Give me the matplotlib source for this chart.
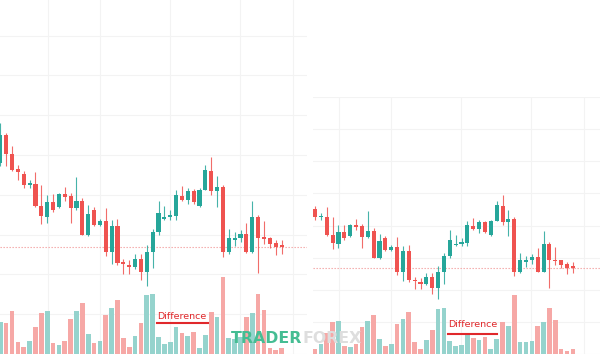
import numpy as np
import matplotlib
matplotlib.use("Agg")
import matplotlib.pyplot as plt
from matplotlib import transforms
from matplotlib.lines import Line2D

# ---- data ----
opens  = [113.5, 116.3, 114.4, 112.9, 112.4, 111.3, 111.4, 109.1, 108.0, 109.5,
          109.0, 110.4, 110.2, 108.9, 109.6, 106.2, 108.7, 107.2, 107.6, 104.5,
          107.1, 103.4, 103.2, 103.0, 103.8, 102.5, 104.5, 106.5, 107.8, 108.0,
          108.1, 110.2, 109.8, 110.7, 109.1, 110.8, 112.7, 110.7, 111.1, 104.5,
          105.7, 105.9, 106.3, 104.5, 108.0, 106.0, 105.9, 105.4, 105.2]
highs  = [117.5, 116.5, 115.2, 113.3, 112.7, 111.8, 112.6, 111.3, 110.3, 110.4,
          110.5, 111.1, 110.5, 112.1, 110.0, 109.2, 109.0, 107.8, 108.9, 107.7,
          107.8, 103.8, 103.7, 104.3, 104.3, 105.2, 106.8, 109.7, 109.1, 108.7,
          110.8, 111.2, 111.0, 110.9, 111.0, 113.3, 114.1, 112.2, 111.3, 106.8,
          106.5, 106.7, 107.4, 109.6, 108.2, 107.6, 106.0, 105.7, 105.7]
lows   = [113.2, 113.2, 112.7, 111.8, 111.0, 111.0, 109.0, 107.3, 107.4, 108.5,
          108.9, 109.7, 107.4, 108.7, 106.2, 106.1, 107.1, 107.1, 104.1, 103.3,
          103.2, 102.3, 102.3, 102.8, 101.7, 101.0, 102.9, 106.2, 107.7, 107.7,
          107.7, 109.7, 109.3, 109.3, 109.0, 110.8, 110.3, 109.0, 104.0, 104.3,
          105.1, 105.5, 104.4, 104.4, 102.4, 105.3, 104.9, 104.2, 104.3]
closes = [116.3, 114.4, 112.8, 112.6, 111.3, 111.4, 109.1, 108.1, 109.5, 108.7,
          110.4, 110.1, 108.9, 109.6, 106.2, 108.3, 107.2, 107.6, 104.5, 107.1,
          103.4, 103.3, 103.0, 103.8, 102.5, 104.5, 106.5, 108.4, 108.0, 108.2,
          110.3, 109.8, 110.7, 109.5, 110.8, 112.8, 110.7, 111.1, 104.5, 105.9,
          105.9, 106.3, 104.5, 108.0, 105.9, 105.8, 105.3, 105.0, 105.0]
volumes = [3200, 3100, 4300, 1200, 700, 1300, 2700, 4100, 4300, 1100,
           900, 1300, 3500, 4300, 5100, 2000, 1100, 1300, 3900, 4600,
           5400, 1600, 700, 1800, 3100, 5900, 6000, 1700, 1000, 1200,
           2700, 2100, 1800, 2200, 600, 1900, 4200, 3700, 7700, 1600,
           1500, 1700, 3700, 4100, 6000, 4400, 600, 400, 600]
price_grid = [126.4 - 4.03 * k for k in range(9)]
time_grid = [8.1, 17, 28.9, 40.9, 49.9]
annotation = "Difference"

UP, DOWN = "#26a69a", "#ef5350"
UP_V, DOWN_V = "#95d3cd", "#f6a8a6"

W, H = 600, 354
fig = plt.figure(figsize=(6, 3.54), dpi=100)
fig.patch.set_facecolor("white")


def px_rect(x0, y0, x1, y1):
    return [x0 / W, 1 - y1 / H, (x1 - x0) / W, (y1 - y0) / H]


panels = [
    dict(rect=px_rect(0, 0, 307, 354), xlim=(-0.05, 52.34), ylim=(94.6, 130.0), vtop=35400),
    dict(rect=px_rect(313, 97, 600, 354), xlim=(3.65, 52.63), ylim=(98.0, 123.7), vtop=33380),
]

o = np.array(opens); h = np.array(highs); l = np.array(lows); c = np.array(closes)
v = np.array(volumes)
idx = np.arange(len(o))
up = c >= o

for p in panels:
    ax = fig.add_axes(p["rect"])
    ax.set_facecolor("white")
    for s in ax.spines.values():
        s.set_visible(False)
    ax.set_xlim(*p["xlim"])
    ax.set_ylim(*p["ylim"])
    ax.set_yticks(price_grid)
    ax.set_xticks(time_grid)
    ax.tick_params(length=0, labelleft=False, labelbottom=False)
    ax.grid(True, color="#f3f3f3", lw=0.8)
    ax.set_axisbelow(True)

    # volume bars (own vertical scale at the bottom of the pane)
    vtrans = transforms.blended_transform_factory(
        ax.transData, transforms.Affine2D().scale(1, 1 / p["vtop"]) + ax.transAxes)
    ax.bar(idx, v, width=0.8, color=np.where(up, UP_V, DOWN_V),
           transform=vtrans, zorder=2, linewidth=0)

    # last price line
    ax.axhline(c[-1], color="#f3a3a3", lw=0.8, ls=(0, (1.2, 1.5)), zorder=2.5)

    # candles
    cols = np.where(up, UP, DOWN)
    ax.vlines(idx, l, h, colors=cols, lw=0.8, alpha=0.85, zorder=3)
    body_lo = np.minimum(o, c)
    body_h = np.maximum(np.abs(c - o), 0.15)
    ax.bar(idx, body_h, bottom=body_lo, width=0.7, color=cols, linewidth=0, zorder=4)

# annotations
fig.text(182 / W, 1 - 316.5 / H, annotation, color="#e0282b", fontsize=6.8,
         ha="center", va="center", zorder=10)
fig.add_artist(Line2D([157 / W, 208 / W], [1 - 323 / H] * 2, color="#e0282b", lw=1.5))
fig.text(473 / W, 1 - 324.5 / H, annotation, color="#e0282b", fontsize=6.8,
         ha="center", va="center", zorder=10)
fig.add_artist(Line2D([448 / W, 497 / W], [1 - 334 / H] * 2, color="#e0282b", lw=1.5))

# watermark
fig.text(302 / W, 1 - 338.5 / H, "TRADER", color="#45bd93", fontsize=11.3,
         fontweight="bold", ha="right", va="center", zorder=11)
fig.text(302 / W, 1 - 338.5 / H, "FOREX", color="#dedede", fontsize=11.3,
         fontweight="bold", ha="left", va="center", zorder=11)

fig.savefig("out.png", dpi=100, facecolor="white")
